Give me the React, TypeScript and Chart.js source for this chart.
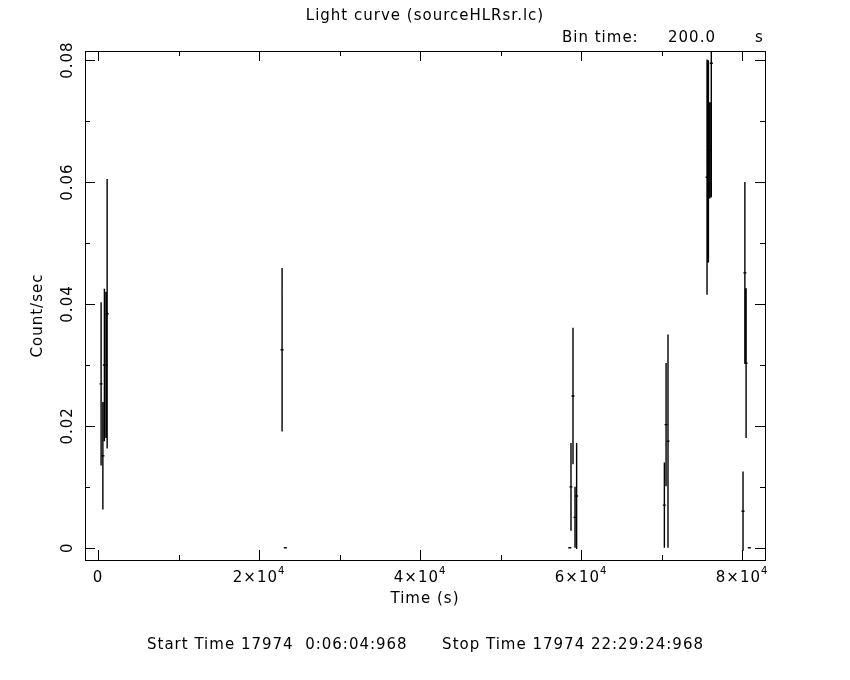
import React, { useEffect, useRef } from "react";
import { Chart, registerables } from "chart.js";

Chart.register(...registerables);

// ---- data ----
const binTimes = [380, 600, 790, 990, 1130, 22860, 23260, 58600, 58750, 59000, 59250, 59450, 70350, 70560, 70800, 75650, 75820, 76000, 76180, 80120, 80350, 80500, 80900];
const countRates = [0.0269, 0.0151, 0.0300, 0.0300, 0.0384, 0.0325, 0, 0, 0.0100, 0.0249, 0.0050, 0.0085, 0.0070, 0.0202, 0.0175, 0.0608, 0.0634, 0.0652, 0.0795, 0.0060, 0.0451, 0.0303, 0];
const rateErrors = [0.0134, 0.0088, 0.0125, 0.0120, 0.0221, 0.0134, 0, 0, 0.0072, 0.0112, 0.0050, 0.0087, 0.0070, 0.0101, 0.0175, 0.0193, 0.0166, 0.0079, 0.0220, 0.0065, 0.0149, 0.0123, 0];
const binHalfWidth = 100;

const xMajorTicks = [0, 20000, 40000, 60000, 80000];
const xTickMantissa = ["0", "2×10", "4×10", "6×10", "8×10"];
const xTickExponent = ["", "4", "4", "4", "4"];
const xMinorTicks = [10000, 30000, 50000, 70000];
const yMajorTicks = [0, 0.02, 0.04, 0.06, 0.08];
const yTickLabels = ["0", "0.02", "0.04", "0.06", "0.08"];
const yMinorTicks = [0.01, 0.03, 0.05, 0.07];

const titleText = "Light curve (sourceHLRsr.lc)";
const xTitle = "Time (s)";
const yTitle = "Count/sec";
const binLabel = "Bin time:";
const binValue = "200.0";
const binUnit = "s";
const footerStart = "Start Time 17974  0:06:04:968";
const footerStop = "Stop Time 17974 22:29:24:968";

const FONT = '"DejaVu Sans", sans-serif';

const framePlugin = {
  id: "qdpFrame",
  afterDraw(chart: any) {
    const ctx = chart.ctx as any;
    const xs = chart.scales.x;
    const ys = chart.scales.y;
    const a = chart.chartArea;
    ctx.save();
    ctx.strokeStyle = "#000";
    ctx.fillStyle = "#000";
    ctx.lineWidth = 1;
    // frame
    ctx.strokeRect(Math.round(a.left) + 0.5, Math.round(a.top) + 0.5, Math.round(a.right - a.left), Math.round(a.bottom - a.top));
    const major = 10, minor = 5;
    ctx.beginPath();
    const vt = (v: number, len: number) => {
      const px = Math.round(xs.getPixelForValue(v)) + 0.5;
      ctx.moveTo(px, a.bottom); ctx.lineTo(px, a.bottom - len);
      ctx.moveTo(px, a.top); ctx.lineTo(px, a.top + len);
    };
    const ht = (v: number, len: number) => {
      const py = Math.round(ys.getPixelForValue(v)) + 0.5;
      ctx.moveTo(a.left, py); ctx.lineTo(a.left + len, py);
      ctx.moveTo(a.right, py); ctx.lineTo(a.right - len, py);
    };
    xMajorTicks.forEach((v) => vt(v, major));
    xMinorTicks.forEach((v) => vt(v, minor));
    yMajorTicks.forEach((v) => ht(v, major));
    yMinorTicks.forEach((v) => ht(v, minor));
    ctx.stroke();

    ctx.textBaseline = "middle";
    ctx.letterSpacing = "1px";
    // x tick labels with superscript exponent
    xMajorTicks.forEach((v, i) => {
      const px = xs.getPixelForValue(v);
      ctx.font = `15px ${FONT}`;
      const bw = ctx.measureText(xTickMantissa[i]).width;
      ctx.font = `10px ${FONT}`;
      const ew = xTickExponent[i] ? ctx.measureText(xTickExponent[i]).width : 0;
      const start = px - (bw + ew) / 2;
      ctx.textAlign = "left";
      ctx.font = `15px ${FONT}`;
      ctx.fillText(xTickMantissa[i], start, a.bottom + 18);
      if (xTickExponent[i]) {
        ctx.font = `10px ${FONT}`;
        ctx.fillText(xTickExponent[i], start + bw, a.bottom + 11);
      }
    });
    // y tick labels rotated
    ctx.font = `15px ${FONT}`;
    ctx.textAlign = "center";
    yMajorTicks.forEach((v, i) => {
      const py = ys.getPixelForValue(v);
      ctx.save();
      ctx.translate(a.left - 17, py);
      ctx.rotate(-Math.PI / 2);
      ctx.fillText(yTickLabels[i], 0, 0);
      ctx.restore();
    });
    // axis titles
    const cx = (a.left + a.right) / 2;
    ctx.fillText(xTitle, cx, a.bottom + 39);
    ctx.save();
    ctx.translate(a.left - 47, (a.top + a.bottom) / 2 + 10);
    ctx.rotate(-Math.PI / 2);
    ctx.fillText(yTitle, 0, 0);
    ctx.restore();
    // title and bin time
    ctx.fillText(titleText, cx, 16);
    ctx.textAlign = "left";
    ctx.fillText(binLabel, 562, 38);
    ctx.fillText(binValue, 668, 38);
    ctx.fillText(binUnit, 755, 38);
    // footer
    ctx.fillText(footerStart, 147, 645);
    ctx.textAlign = "right";
    ctx.fillText(footerStop, 704, 645);
    ctx.restore();
  },
};

export default function App() {
  const canvasRef = useRef<HTMLCanvasElement | null>(null);
  useEffect(() => {
    if (!canvasRef.current) return;
    const vertical: any[] = [];
    const horizontal: any[] = [];
    binTimes.forEach((t, i) => {
      const r = countRates[i];
      const e = rateErrors[i];
      if (e > 0) {
        vertical.push({ x: t, y: r - e }, { x: t, y: r + e }, { x: t, y: null });
      }
      horizontal.push({ x: t - binHalfWidth, y: r }, { x: t + binHalfWidth, y: r }, { x: t, y: null });
    });
    const chart = new Chart(canvasRef.current, {
      type: "scatter",
      data: {
        datasets: [
          { data: vertical, showLine: true, borderColor: "#000", borderWidth: 1.4, pointRadius: 0, spanGaps: false },
          { data: horizontal, showLine: true, borderColor: "#000", borderWidth: 1.4, borderCapStyle: "square", pointRadius: 0, spanGaps: false },
        ],
      },
      options: {
        animation: false,
        responsive: false,
        devicePixelRatio: 1,
        layout: { padding: { left: 85, top: 51, right: 85, bottom: 120 } },
        plugins: { legend: { display: false }, tooltip: { enabled: false }, title: { display: false } },
        scales: {
          x: { type: "linear", display: false, min: -1620, max: 82850 },
          y: { type: "linear", display: false, min: -0.002, max: 0.0815 },
        },
      },
      plugins: [framePlugin],
    });
    return () => chart.destroy();
  }, []);
  return (
    <div style={{ position: "fixed", left: 0, top: 0, width: 850, height: 680, background: "#fff" }}>
      <canvas ref={canvasRef} width={850} height={680} style={{ display: "block" }} />
    </div>
  );
}
